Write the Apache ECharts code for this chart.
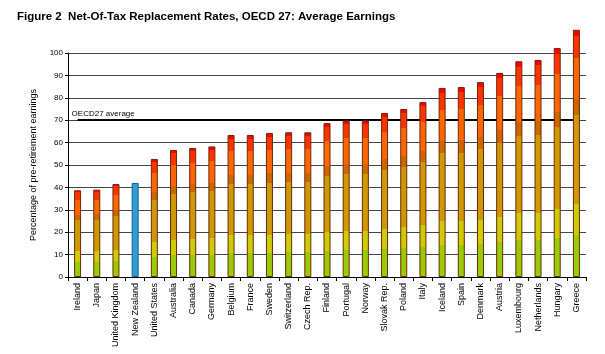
<!DOCTYPE html>
<html>
<head>
<meta charset="utf-8">
<script src="https://cdn.jsdelivr.net/npm/echarts@6/dist/echarts.min.js"></script>
<style>
  html, body { margin: 0; padding: 0; background: #fff; }
  #chart { width: 605px; height: 354px; }
</style>
</head>
<body>
<div id="chart"></div>
<script>
// countries, lowest to highest replacement rate
const countries = ['Ireland', 'Japan', 'United Kingdom', 'New Zealand', 'United States', 'Australia',
  'Canada', 'Germany', 'Belgium', 'France', 'Sweden', 'Switzerland', 'Czech Rep.', 'Finland',
  'Portugal', 'Norway', 'Slovak Rep.', 'Poland', 'Italy', 'Iceland', 'Spain', 'Denmark',
  'Austria', 'Luxembourg', 'Netherlands', 'Hungary', 'Greece'];
const rates = [38.7, 39.0, 41.5, 42.0, 52.7, 56.7, 57.6, 58.3, 63.4, 63.4, 64.3, 64.6, 64.6, 68.7,
  69.9, 69.9, 73.2, 75.0, 78.1, 84.4, 84.8, 87.0, 91.1, 96.3, 96.9, 102.2, 110.4];
const oecdAverage = 70;
const highlight = 'New Zealand';

// stripes of the bar fill, bottom to top (share of bar height)
const bandStarts = [0.00, 0.17, 0.295, 0.655, 0.72, 0.885, 0.975];
const bandColors = ['#99cc00', '#cccc00', '#cc9900', '#cc6600', '#ff6600', '#ff3300', '#ff0000'];

function stripeFill() {
  const stops = [];
  bandStarts.forEach((s, i) => {
    const end = i < bandStarts.length - 1 ? bandStarts[i + 1] : 1;
    stops.push({ offset: s, color: bandColors[i] });
    stops.push({ offset: end, color: bandColors[i] });
  });
  return new echarts.graphic.LinearGradient(0, 1, 0, 0, stops);
}

const chart = echarts.init(document.getElementById('chart'));

chart.setOption({
  animation: false,
  title: {
    text: 'Figure 2  Net-Of-Tax Replacement Rates, OECD 27: Average Earnings',
    left: 17,
    top: 11,
    padding: 0,
    textStyle: { fontFamily: 'Liberation Sans', fontSize: 11.5, fontWeight: 'bold', color: '#000' }
  },
  grid: { left: 68, right: 19, top: 53, bottom: 77 },
  xAxis: {
    type: 'category',
    data: countries,
    axisLine: { lineStyle: { color: '#000', width: 1 } },
    axisTick: { show: true, length: 4, lineStyle: { color: '#000' } },
    axisLabel: {
      interval: 0, rotate: 90, fontSize: 9, margin: 6, color: '#000',
      fontFamily: 'Liberation Sans'
    }
  },
  yAxis: {
    type: 'value',
    min: 0,
    max: 100,
    interval: 10,
    name: 'Percentage of pre-retirement earnings',
    nameLocation: 'middle',
    nameGap: 30,
    nameTextStyle: { fontSize: 9, color: '#000', fontFamily: 'Liberation Sans' },
    axisLine: { show: true, lineStyle: { color: '#000' } },
    axisTick: { show: true, length: 3, lineStyle: { color: '#000' } },
    axisLabel: { fontSize: 8, color: '#000', margin: 5, fontFamily: 'Liberation Sans' },
    splitLine: { lineStyle: { color: '#444', width: 1 } }
  },
  series: [{
    type: 'bar',
    barWidth: 7,
    clip: false,
    z: 5,
    data: rates.map((v, i) => ({
      value: v,
      itemStyle: countries[i] === highlight
        ? { color: '#2e9ad6', borderColor: '#1d5f8a', borderWidth: 1 }
        : { color: stripeFill(), borderColor: '#6e2a0a', borderWidth: 1 }
    })),
    markLine: {
      silent: true,
      symbol: 'none',
      lineStyle: { color: '#000', width: 2, type: 'solid' },
      label: {
        show: true,
        position: 'insideStartTop',
        formatter: 'OECD27 average',
        fontSize: 8,
        color: '#000',
        distance: [-6, 2],
        fontFamily: 'Liberation Sans'
      },
      data: [[
        { coord: [0, oecdAverage] },
        { coord: [countries.length - 1, oecdAverage] }
      ]]
    }
  }]
});
</script>
</body>
</html>
